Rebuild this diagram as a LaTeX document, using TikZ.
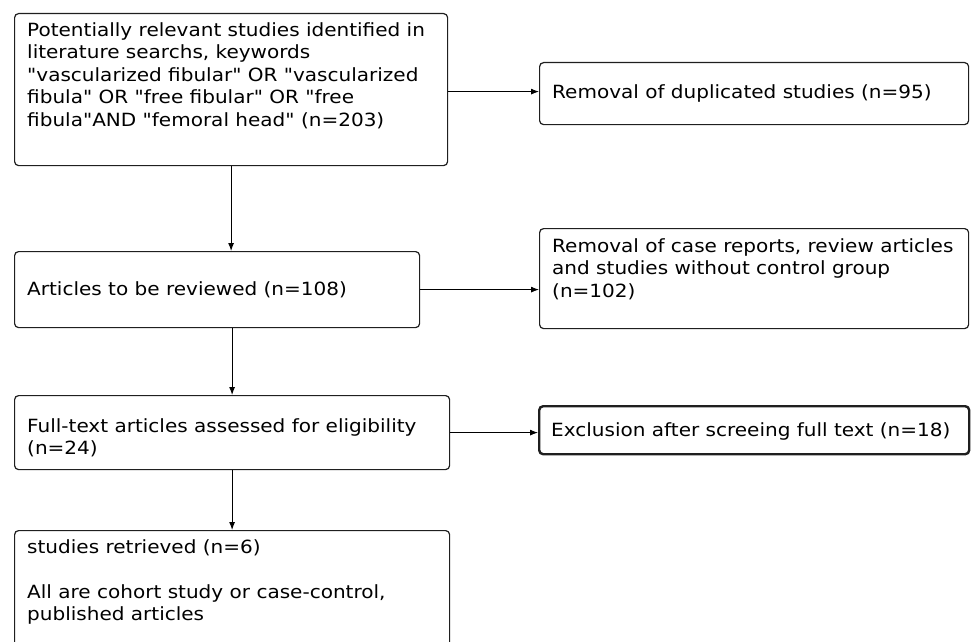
\documentclass[tikz,border=0pt]{standalone}
\usepackage{fontspec}
\setmainfont{DejaVu Sans}[Ligatures=TeXOff, FakeStretch=1.1]
\usetikzlibrary{arrows.meta,calc}
\begin{document}
\begin{tikzpicture}[x=1pt,y=-1pt,
  box/.style={draw=black!88, line width=1.2pt, rounded corners=4pt, inner sep=0pt, anchor=north west},
  thickbox/.style={box, line width=2.4pt},
  txt/.style={inner sep=0pt, anchor=north west, align=left, font=\fontsize{18.2}{22.5}\selectfont},
  arr/.style={draw=black, line width=0.9pt, -{Latex[length=8pt,width=6pt]}}]
\useasboundingbox (0,0) rectangle (972,642);
\clip (0,0) rectangle (972,642);
% boxes
\node[box, minimum width=433pt, minimum height=152pt] (b1) at (14,13) {};
\node[box, minimum width=429pt, minimum height=62pt] (b2) at (539,62) {};
\node[box, minimum width=405pt, minimum height=76pt] (b3) at (14,251) {};
\node[box, minimum width=429pt, minimum height=100pt] (b4) at (539,228) {};
\node[box, minimum width=435pt, minimum height=74pt] (b5) at (14,395) {};
\node[thickbox, minimum width=430pt, minimum height=48pt] (b6) at (538,405) {};
\node[box, minimum width=435pt, minimum height=140pt] (b7) at (14,530) {};
% texts
\node[txt] (t1) at ($(b1.north west)+(13,9)$) {Potentially relevant studies identified in\\literature searchs, keywords\\"vascularized fibular" OR "vascularized\\fibula" OR "free fibular" OR "free\\fibula"AND "femoral head" (n=203)};
\node[txt] (t2) at ($(b2.north west)+(13,22)$) {Removal of duplicated studies (n=95)};
\node[txt] (t3) at ($(b3.north west)+(13,30)$) {Articles to be reviewed (n=108)};
\node[txt] (t4) at ($(b4.north west)+(13,10)$) {Removal of case reports, review articles\\and studies without control group\\(n=102)};
\node[txt] (t5) at ($(b5.north west)+(13,23)$) {Full-text articles assessed for eligibility\\(n=24)};
\node[txt] (t6) at ($(b6.north west)+(13,17)$) {Exclusion after screeing full text (n=18)};
\node[txt] (t7) at ($(b7.north west)+(13,9)$) {studies retrieved (n=6)\\[22.5pt]All are cohort study or case-control,\\published articles};
% connectors
\coordinate (a1) at ($(b1.east)+(0,2)$);
\draw[arr] (b1.south) -- (b1.south |- b3.north);
\draw[arr] (b5.north |- b3.south) -- (b5.north);
\draw[arr] (b5.south) -- (b7.north);
\draw[arr] (a1) -- (a1 -| b2.west);
\draw[arr] (b3.east) -- (b3.east -| b4.west);
\draw[arr] (b5.east) -- (b5.east -| b6.west);
\end{tikzpicture}
\end{document}
